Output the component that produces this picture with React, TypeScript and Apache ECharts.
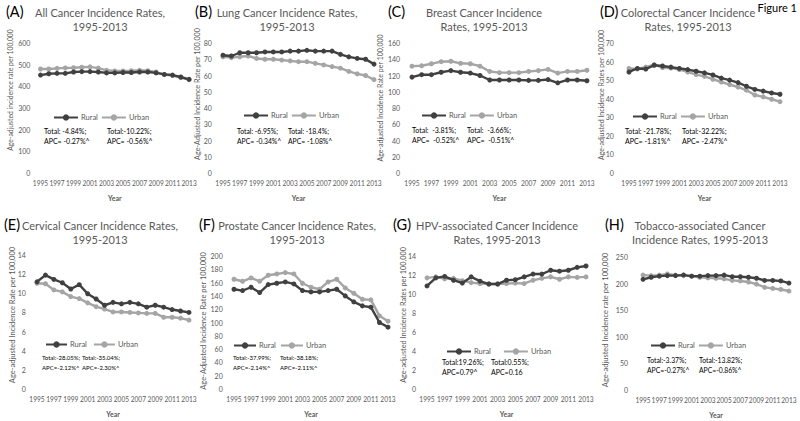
import React, { useEffect, useRef } from "react";
import * as echarts from "echarts";

const years = ["1995","1996","1997","1998","1999","2000","2001","2002","2003","2004","2005","2006","2007","2008","2009","2010","2011","2012","2013"];

const allRural = [452,458,460,460,466,468,468,466,462,462,464,464,466,466,462,455,452,443,432];
const allUrban = [480,480,483,485,486,488,490,484,474,471,471,472,474,472,466,454,450,440,431];
const lungRural = [72.5,72,74,74,74,74.5,74.5,74.5,75,75,75.5,75,75,75,73,71.5,70.5,70,67];
const lungUrban = [71.5,71,71.5,72,70.5,70,70,69.5,69,68.5,68.5,67.5,66.5,65.5,64.5,62.5,61,60,57.5];
const breastRural = [118,121,121,124,126,124,123,120,114.5,114.5,114.5,114.5,114,114,115,111,114.5,114.5,113.5];
const breastUrban = [131.5,132,134.5,137,137.5,135,134.5,131.5,125,123.5,123.5,123.5,125,126,127.5,123,125,125,126.5];
const colorectalRural = [54.4,56.3,56,58,57.6,57,56.3,55.7,54.8,53.9,52.8,51.1,50,48.7,46.7,45,44.1,43.1,42.4];
const colorectalUrban = [56.3,56,57,58.4,56.7,56.5,55.7,54.4,53,52,50.5,49,47.6,46.3,44.6,42,41,39.7,38.4];
const cervicalRural = [11.2,11.9,11.45,11.1,10.45,10.9,9.95,9.4,8.75,9.05,8.9,9.05,8.9,8.55,8.75,8.55,8.3,8.15,8.0];
const cervicalUrban = [11.05,11.0,10.35,10.15,9.65,9.45,9.0,8.6,8.35,8.05,8.05,8.0,7.95,7.9,7.9,7.5,7.5,7.4,7.2];
const prostateRural = [150,148,153,145,157,159,161,158,148,146,146,148,150,140,131,125,123,100,93];
const prostateUrban = [165,162,167,162,171,173,175,173,159,153,150,161,165,152,144,135,134,110,102];
const hpvRural = [10.85,11.7,11.85,11.45,11.15,11.8,11.35,11.05,11.05,11.45,11.5,11.8,12.1,12.1,12.5,12.4,12.5,12.8,12.95];
const hpvUrban = [11.7,11.8,11.6,11.65,11.4,11.2,11.1,11.05,11.05,11.1,11.15,11.1,11.45,11.65,11.8,11.55,11.8,11.75,11.8];
const tobaccoRural = [208,212,214,215,215,216,214,214,215,215,216,213,213,212,210,206,206,205,201];
const tobaccoUrban = [216,215,216,218,216,216,214,212,211,210,209,206,205,203,199,193,191,189,186];

const panelTitles = [
  ["All Cancer Incidence Rates,", "1995-2013"],
  ["Lung Cancer Incidence Rates,", "1995-2013"],
  ["Breast Cancer Incidence", "Rates, 1995-2013"],
  ["Colorectal Cancer Incidence", "Rates, 1995-2013"],
  ["Cervical Cancer Incidence Rates,", "1995-2013"],
  ["Prostate Cancer Incidence Rates,", "1995-2013"],
  ["HPV-associated Cancer Incidence", "Rates, 1995-2013"],
  ["Tobacco-associated Cancer", "Incidence Rates, 1995-2013"],
];
const panelLetters = ["(A)", "(B)", "(C)", "(D)", "(E)", "(F)", "(G)", "(H)"];
const yTitles = [
  "Age-adjusted incidence rate per 100,000",
  "Age-Adjusted Incidence Rate per 100,000",
  "Age-adjusted Incidence Rate per 100,000",
  "Age-adjusted Incidence Rates per 100,000",
  "Age-adjusted Incidence Rate per 100,000",
  "Age-Adjusted Incidence Rate per 100,000",
  "Age-adjusted Incidence Rates per 100,000",
  "Age-adjusted Incidence rate per 100,000",
];
const ruralNotes = [
  ["Total: -4.84%;", "APC= -0.27%^"],
  ["Total: -6.95%;", "APC= -0.34%^"],
  ["Total:  -3.81%;", "APC=  -0.52%^"],
  ["Total: -21.78%;", "APC= -1.81%^"],
  ["Total:-28.05%;", "APC=-2.12%^"],
  ["Total:-37.99%;", "APC=-2.14%^"],
  ["Total:19.26%;", "APC=0.79^"],
  ["Total:-3.37%;", "APC=-0.27%^"],
];
const urbanNotes = [
  ["Total:-10.22%;", "APC= -0.56%^"],
  ["Total: -18.4%;", "APC= -1.08%^"],
  ["Total:  -3.66%;", "APC=  -0.51%^"],
  ["Total:-32.22%;", "APC= -2.47%^"],
  ["Total:-35.04%;", "APC=-2.30%^"],
  ["Total:-38.18%;", "APC=-2.11%^"],
  ["Total:0.55%;", "APC=0.16"],
  ["Total:-13.82%;", "APC=-0.86%^"],
];
const ruralSeries = [allRural, lungRural, breastRural, colorectalRural, cervicalRural, prostateRural, hpvRural, tobaccoRural];
const urbanSeries = [allUrban, lungUrban, breastUrban, colorectalUrban, cervicalUrban, prostateUrban, hpvUrban, tobaccoUrban];
const yMax = [600, 80, 160, 70, 14, 200, 14, 250];
const yStep = [100, 10, 20, 10, 2, 20, 2, 50];

// layout (pixels); titleY / noteY / legY are centres of the first text line
const layout = [
  { left: 36.4, width: 156.8, top: 43, height: 130, labMargin: 6, titleX: 100, titleY: 12, letterX: 6, yTitleX: 10, yTitleY: 90, yTitleFs: 6.8, legX: 53, legY: 118, legW: 24, legGap: 3, noteX: 44, note2X: 107, noteY: 131, noteFs: 7 },
  { left: 218.8, width: 159.4, top: 43, height: 130, labMargin: 7, titleX: 287, titleY: 12, letterX: 195, yTitleX: 197, yTitleY: 94, yTitleFs: 7.2, legX: 243, legY: 116, legW: 24, legGap: 3, noteX: 237, note2X: 288, noteY: 131, noteFs: 6.8 },
  { left: 407.1, width: 184.7, top: 43, height: 130, labMargin: 7, titleX: 484, titleY: 12, letterX: 388, yTitleX: 380, yTitleY: 98, yTitleFs: 7, legX: 421, legY: 116, legW: 24, legGap: 3, noteX: 412, note2X: 467, noteY: 130, noteFs: 7 },
  { left: 624.8, width: 159.4, top: 43, height: 130, labMargin: 11, titleX: 688, titleY: 12, letterX: 600, yTitleX: 601, yTitleY: 95, yTitleFs: 7, legX: 632, legY: 117, legW: 24, legGap: 3, noteX: 625, note2X: 682, noteY: 131, noteFs: 7 },
  { left: 32.8, width: 160.4, top: 255, height: 134, labMargin: 7, titleX: 100, titleY: 225, letterX: 4, yTitleX: 12, yTitleY: 315, yTitleFs: 7.5, legX: 45, legY: 345, legW: 21, legGap: 6, noteX: 42, note2X: 82, noteY: 357, noteFs: 6 },
  { left: 229.7, width: 162.6, top: 256, height: 133, labMargin: 7, titleX: 297, titleY: 225, letterX: 199, yTitleX: 203, yTitleY: 321, yTitleFs: 7.5, legX: 233, legY: 346, legW: 22, legGap: 4, noteX: 233, note2X: 280, noteY: 357, noteFs: 6 },
  { left: 422.6, width: 167.8, top: 256, height: 133, labMargin: 6.5, titleX: 497, titleY: 225, letterX: 393, yTitleX: 403, yTitleY: 315, yTitleFs: 7.3, legX: 446, legY: 352, legW: 24, legGap: 12, noteX: 442, note2X: 491, noteY: 362, noteFs: 7 },
  { left: 639, width: 154, top: 257, height: 133, labMargin: 11, titleX: 700, titleY: 225, letterX: 605, yTitleX: 605, yTitleY: 320, yTitleFs: 7.5, legX: 650, legY: 346, legW: 24, legGap: 3, noteX: 647, note2X: 699, noteY: 360, noteFs: 6.8 },
];

const FONT = "Lato, 'Liberation Sans', sans-serif";
const GRAY = "#595959";
const DARK = "#404040";
const LIGHT = "#a5a5a5";
const TITLE_LH = 14;
const NOTE_LH = 10;

export default function App() {
  const ref = useRef<HTMLDivElement>(null);
  useEffect(() => {
    if (!ref.current) return;
    const chart = echarts.init(ref.current, undefined, { renderer: "svg" });
    const grid: any[] = [];
    const xAxis: any[] = [];
    const yAxis: any[] = [];
    const series: any[] = [];
    const legend: any[] = [];
    const graphic: any[] = [];
    layout.forEach((p, i) => {
      grid.push({ left: p.left, top: p.top, width: p.width, height: p.height });
      xAxis.push({
        type: "category", gridIndex: i, data: years, boundaryGap: true,
        axisLine: { show: false }, axisTick: { show: false },
        axisLabel: { interval: 1, fontSize: 6.6, color: GRAY, fontFamily: FONT, margin: 6 },
        name: "Year", nameLocation: "middle", nameGap: 21,
        nameTextStyle: { fontSize: 7, fontWeight: "bold", color: GRAY, fontFamily: FONT },
      });
      yAxis.push({
        type: "value", gridIndex: i, min: 0, max: yMax[i], interval: yStep[i],
        axisLine: { show: false }, axisTick: { show: false }, splitLine: { show: false },
        axisLabel: { fontSize: 7, color: GRAY, fontFamily: FONT, margin: p.labMargin },
      });
      series.push({
        type: "line", name: "Rural", xAxisIndex: i, yAxisIndex: i, data: ruralSeries[i],
        symbol: "circle", symbolSize: 5, lineStyle: { width: 2.4, color: DARK },
        itemStyle: { color: DARK }, z: 3,
      });
      series.push({
        type: "line", name: "Urban", xAxisIndex: i, yAxisIndex: i, data: urbanSeries[i],
        symbol: "circle", symbolSize: 5, lineStyle: { width: 2.4, color: LIGHT },
        itemStyle: { color: LIGHT }, z: 2,
      });
      legend.push({
        left: p.legX, top: p.legY - 4.5, data: ["Rural", "Urban"], itemWidth: p.legW, itemHeight: 8,
        itemGap: p.legGap, padding: 0, selectedMode: false,
        textStyle: { fontSize: 7.5, color: GRAY, fontFamily: FONT, padding: [0, 0, 0, -2] },
      });
      graphic.push({
        type: "text", x: p.titleX, y: p.titleY + TITLE_LH / 2,
        style: { text: panelTitles[i][0] + "\n" + panelTitles[i][1], fontSize: 11, lineHeight: TITLE_LH,
          fill: GRAY, fontFamily: FONT, align: "center", verticalAlign: "middle" },
      });
      graphic.push({
        type: "text", left: p.letterX, top: p.titleY - 8.5,
        style: { text: panelLetters[i], fontSize: 14.5, fill: "#000", fontFamily: FONT },
      });
      graphic.push({
        type: "text", x: p.yTitleX, y: p.yTitleY, rotation: Math.PI / 2,
        style: { text: yTitles[i], fontSize: p.yTitleFs, fill: GRAY, fontFamily: FONT, align: "center", verticalAlign: "middle" },
      });
      graphic.push({
        type: "text", x: p.noteX, y: p.noteY + NOTE_LH / 2,
        style: { text: ruralNotes[i][0] + "\n" + ruralNotes[i][1], fontSize: p.noteFs, lineHeight: NOTE_LH,
          fill: "#000", fontFamily: FONT, verticalAlign: "middle" },
      });
      graphic.push({
        type: "text", x: p.note2X, y: p.noteY + NOTE_LH / 2,
        style: { text: urbanNotes[i][0] + "\n" + urbanNotes[i][1], fontSize: p.noteFs, lineHeight: NOTE_LH,
          fill: "#000", fontFamily: FONT, verticalAlign: "middle" },
      });
    });
    graphic.push({
      type: "text", right: 3, top: 2,
      style: { text: "Figure 1", fontSize: 11, fill: "#000", fontFamily: FONT },
    });
    chart.setOption({
      animation: false,
      backgroundColor: "#fff",
      textStyle: { fontFamily: FONT },
      grid, xAxis, yAxis, series, legend, graphic,
    });
    return () => chart.dispose();
  }, []);
  return <div ref={ref} style={{ position: "fixed", left: 0, top: 0, width: 800, height: 421 }} />;
}
